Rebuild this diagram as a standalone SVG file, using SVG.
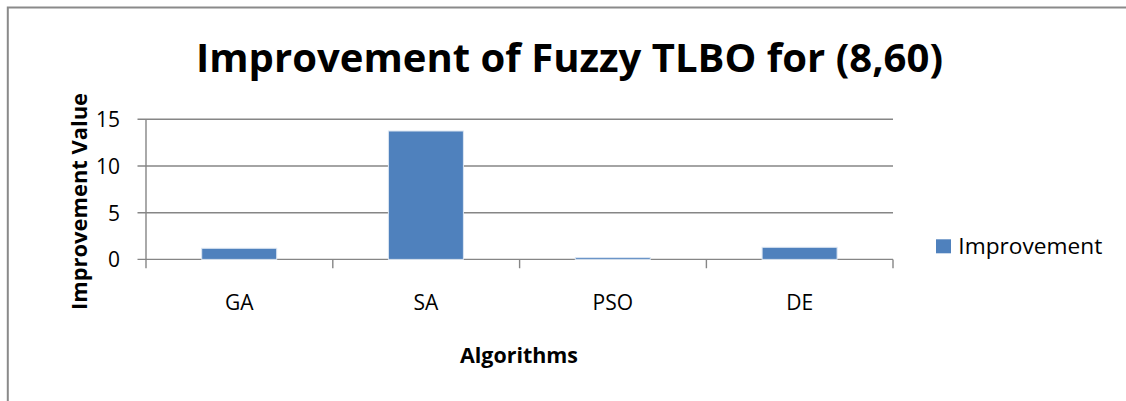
<svg xmlns="http://www.w3.org/2000/svg" width="1126" height="401" viewBox="0 0 1126 401">
<style>
.grid{stroke:#868686;stroke-width:1.4;fill:none}
.bar{fill:#4F81BD;stroke:#dce6f2;stroke-width:1}
.t{font-family:"Open Sans","Liberation Sans",Arial,sans-serif;fill:#000}
.lbl{font-size:21px}
.b{font-weight:bold}
</style>
<rect width="1126" height="401" fill="#fff"/>
<g id="frame">
<path d="M7.8,401 V7.5 H1126" fill="none" stroke="#8a8a8a" stroke-width="2"/>
</g>
<g id="title">
<text class="t b" x="196" y="72" font-size="40" textLength="747" lengthAdjust="spacingAndGlyphs">Improvement of Fuzzy TLBO for (8,60)</text>
</g>
<g id="gridlines">
<path class="grid" d="M137.5,119.3 H893 M137.5,166 H893 M137.5,212.7 H893 M137.5,259.4 H893"/>
<path class="grid" d="M146,119.3 V268.3 M332.8,259.4 V268.3 M519.6,259.4 V268.3 M706.4,259.4 V268.3 M893,259.4 V268.3"/>
</g>
<g id="bars">
<rect id="bar-GA" class="bar" x="201.7" y="248.3" width="75" height="11.1"/>
<rect id="bar-SA" class="bar" x="388.4" y="131" width="75" height="128.4"/>
<rect id="bar-PSO" class="bar" x="575.3" y="257.6" width="75" height="1.8"/>
<rect id="bar-DE" class="bar" x="762.1" y="247.3" width="75" height="12.1"/>
</g>
<g id="y-ticks" class="t lbl" text-anchor="end">
<text x="120" y="126.8">15</text>
<text x="120" y="173.8">10</text>
<text x="120" y="220.5">5</text>
<text x="120" y="267.2">0</text>
</g>
<g id="x-labels" class="t lbl" text-anchor="middle">
<text x="239.2" y="310">GA</text>
<text x="426" y="310">SA</text>
<text x="612.8" y="310">PSO</text>
<text x="799.6" y="310">DE</text>
</g>
<g id="y-title">
<text class="t b" transform="translate(86.5,201.5) rotate(-90)" x="0" y="0" font-size="22" text-anchor="middle" textLength="217" lengthAdjust="spacingAndGlyphs">Improvement Value</text>
</g>
<g id="x-title">
<text class="t b" x="519" y="362.7" font-size="22" text-anchor="middle" textLength="118" lengthAdjust="spacingAndGlyphs">Algorithms</text>
</g>
<g id="legend">
<rect x="936" y="239.3" width="15" height="14" fill="#4F81BD"/>
<text class="t" x="958.3" y="254" font-size="22" textLength="144" lengthAdjust="spacingAndGlyphs">Improvement</text>
</g>
</svg>
